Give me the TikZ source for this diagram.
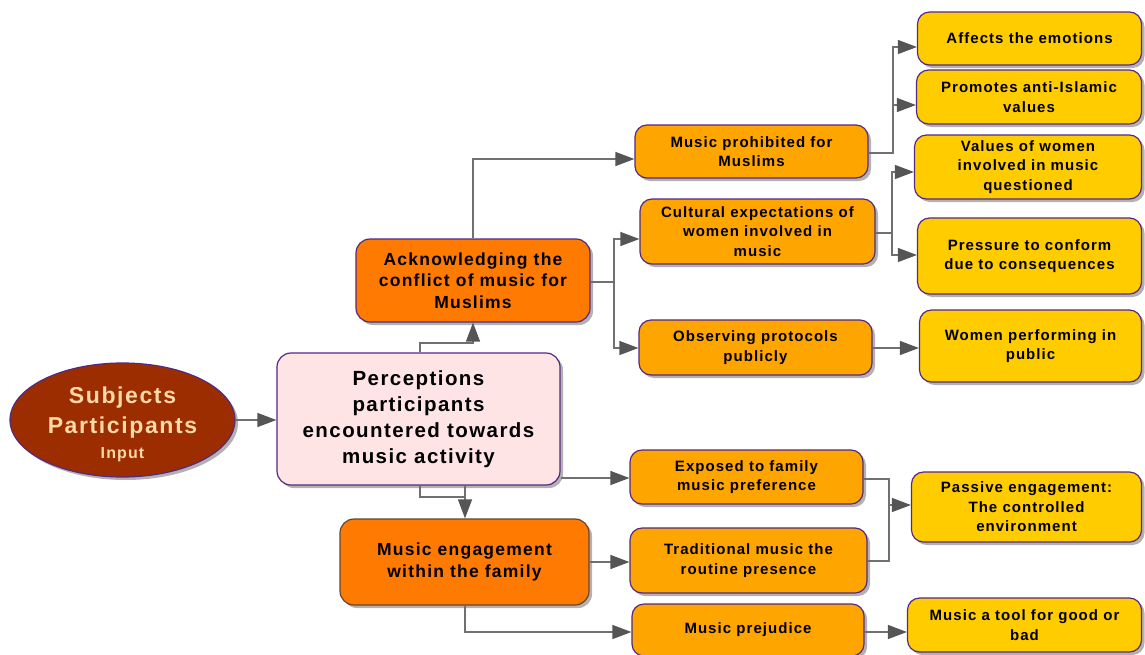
\documentclass[tikz,border=0pt]{standalone}
\usepackage{fontspec}
\setmainfont{Liberation Sans}[LetterSpace=7]
\usetikzlibrary{shapes.geometric,shadows,arrows.meta}

\definecolor{rust}{RGB}{155,45,0}
\definecolor{peach}{RGB}{255,216,168}
\definecolor{blush}{RGB}{255,228,230}
\definecolor{deeporange}{RGB}{255,122,0}
\definecolor{midorange}{RGB}{255,165,0}
\definecolor{gold}{RGB}{255,204,0}
\definecolor{edge}{RGB}{85,40,130}
\definecolor{brownedge}{RGB}{100,70,50}
\definecolor{wire}{RGB}{112,112,112}
\definecolor{tipgray}{RGB}{85,85,85}

\tikzset{
  shade/.style={drop shadow={shadow xshift=3pt, shadow yshift=-3pt, opacity=0.55, fill=black!55}},
  boxbase/.style={rectangle, rounded corners=12pt, draw=edge, line width=1.2pt,
                  inner sep=0pt, align=center, shade, text=black},
  centrebox/.style={boxbase, fill=blush, rounded corners=14pt,
                    font=\fontsize{20.5}{26}\selectfont\bfseries},
  themebox/.style={boxbase, fill=deeporange, rounded corners=14pt,
                   font=\fontsize{17.5}{21.5}\selectfont\bfseries},
  midbox/.style={boxbase, fill=midorange, font=\fontsize{15}{19.5}\selectfont\bfseries},
  leafbox/.style={boxbase, fill=gold, font=\fontsize{15}{19.5}\selectfont\bfseries},
  conn/.style={draw=wire, line width=1.3pt},
  arr/.style={conn, -{Triangle[length=19pt, width=14pt, color=tipgray]}},
}

\begin{document}
\begin{tikzpicture}[x=1pt, y=-1pt]
\useasboundingbox (0,0) rectangle (1145,654);
\clip (0,0) rectangle (1145,654);

% input ellipse
\node[ellipse, draw=edge, line width=1.2pt, fill=rust, shade, minimum width=225pt,
      minimum height=114pt, inner sep=0pt, text=peach, align=center,
      font=\fontsize{23}{30}\selectfont\bfseries]
  (subj) at (122.5,420) {};
\node[text=peach, align=center, inner sep=0pt, font=\fontsize{23}{30}\selectfont\bfseries]
  (subjtext) at (122.5,424)
  {Subjects\\Participants\\[-5pt]{\fontsize{16}{18}\selectfont Input}};

% central and theme boxes
\node[centrebox, minimum width=283pt, minimum height=132pt] (perc) at (418.5,419)
  {Perceptions\\participants\\encountered towards\\music activity};
\node[themebox, minimum width=234pt, minimum height=83pt] (ack) at (473,280.5)
  {Acknowledging the\\conflict of music for\\Muslims};
\node[themebox, draw=brownedge, minimum width=249pt, minimum height=86pt] (eng) at (464.5,562)
  {Music engagement\\within the family};

% sub-themes
\node[midbox, minimum width=233pt, minimum height=53pt] (proh) at (751.5,151.5)
  {Music prohibited for\\Muslims};
\node[midbox, minimum width=235pt, minimum height=65pt] (cult) at (757.5,231.5)
  {Cultural expectations of\\women involved in\\music};
\node[midbox, minimum width=233pt, minimum height=55pt] (obs) at (755.5,347.5)
  {Observing protocols\\publicly};
\node[midbox, minimum width=233pt, minimum height=54pt] (expo) at (746.5,477)
  {Exposed to family\\music preference};
\node[midbox, minimum width=237pt, minimum height=65pt] (trad) at (748.5,560.5)
  {Traditional music the\\routine presence};
\node[midbox, minimum width=232pt, minimum height=52pt] (prej) at (748,630)
  {Music prejudice};

% outcomes
\node[leafbox, minimum width=224pt, minimum height=53pt] (aff) at (1029.5,38.5)
  {Affects the emotions};
\node[leafbox, minimum width=225pt, minimum height=54pt] (prom) at (1029,97)
  {Promotes anti-Islamic\\values};
\node[leafbox, minimum width=227pt, minimum height=64pt] (val) at (1028,167)
  {Values of women\\involved in music\\questioned};
\node[leafbox, minimum width=224pt, minimum height=76pt] (pres) at (1029.5,256)
  {Pressure to conform\\due to consequences};
\node[leafbox, minimum width=222pt, minimum height=72pt] (wom) at (1030.5,346)
  {Women performing in\\public};
\node[leafbox, minimum width=230pt, minimum height=70pt] (pas) at (1026.5,507)
  {Passive engagement:\\The controlled\\environment};
\node[leafbox, minimum width=234pt, minimum height=54pt] (tool) at (1024.5,625)
  {Music a tool for good or\\bad};

% junction points of the elbow connectors
\coordinate (j1) at (420,343);
\coordinate (j2) at (473,343);
\coordinate (j3) at (473,159);
\coordinate (j4) at (614,282);
\coordinate (j5) at (614,239);
\coordinate (j6) at (614,348);
\coordinate (k1) at (893,153);
\coordinate (k2) at (893,47);
\coordinate (k3) at (893,105);
\coordinate (k4) at (892,233);
\coordinate (k5) at (892,172);
\coordinate (k6) at (892,255);
\coordinate (k7) at (0,348);
\coordinate (m1) at (0,478);
\coordinate (m2) at (420,497);
\coordinate (m3) at (465,497);
\coordinate (m4) at (465,632);
\coordinate (m5) at (0,562);
\coordinate (n1) at (889,479);
\coordinate (n2) at (889,561);
\coordinate (n3) at (889,505);
\coordinate (n4) at (0,632);

% connectors
\draw[arr] (subj.east) -- (perc.west |- subj.east);
\draw[arr] (perc.north -| j1) -- (j1) -- (j2) -- (ack.south -| j2);
\draw[arr] (ack.north -| j3) -- (j3) -- (proh.west |- j3);
\draw[arr] (ack.east |- j4) -- (j4) -- (j5) -- (cult.west |- j5);
\draw[arr] (j4) -- (j6) -- (obs.west |- j6);
\draw[arr] (proh.east |- k1) -- (k1) -- (k2) -- (aff.west |- k2);
\draw[arr] (k3) -- (prom.west |- k3);
\draw[arr] (cult.east |- k4) -- (k4) -- (k5) -- (val.west |- k5);
\draw[arr] (k4) -- (k6) -- (pres.west |- k6);
\draw[arr] (obs.east |- k7) -- (wom.west |- k7);
\draw[arr] (perc.east |- m1) -- (expo.west |- m1);
\draw[conn] (perc.south -| m2) -- (m2) -- (m3);
\draw[arr] (perc.south -| m3) -- (eng.north -| m3);
\draw[arr] (eng.east |- m5) -- (trad.west |- m5);
\draw[arr] (eng.south -| m4) -- (m4) -- (prej.west |- m4);
\draw[conn] (expo.east |- n1) -- (n1) -- (n2) -- (trad.east |- n2);
\draw[arr] (n3) -- (pas.west |- n3);
\draw[arr] (prej.east |- n4) -- (tool.west |- n4);
\end{tikzpicture}
\end{document}
